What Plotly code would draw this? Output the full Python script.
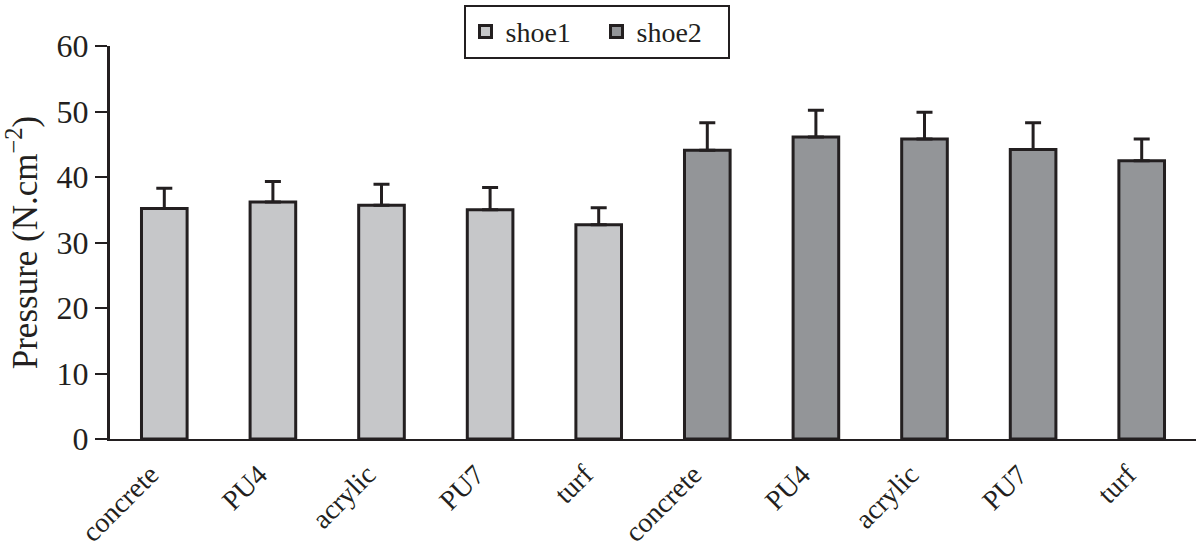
import plotly.graph_objects as go

surfaces = ["concrete", "PU4", "acrylic", "PU7", "turf"]
shoe1_vals = [35.2, 36.2, 35.7, 35.0, 32.7]
shoe1_err = [3.1, 3.1, 3.2, 3.4, 2.6]
shoe2_vals = [44.1, 46.1, 45.8, 44.2, 42.5]
shoe2_err = [4.2, 4.1, 4.1, 4.1, 3.3]
tick_labels = surfaces + surfaces
y_ticks = [0, 10, 20, 30, 40, 50, 60]

FONT = "Liberation Serif, Times New Roman, serif"
INK = "#231f20"

n = len(surfaces)
x1 = list(range(n))
x2 = list(range(n, 2 * n))

fig = go.Figure()
for name, xs, vals, errs, color in [
    ("shoe1", x1, shoe1_vals, shoe1_err, "#c6c7c9"),
    ("shoe2", x2, shoe2_vals, shoe2_err, "#939598"),
]:
    fig.add_trace(go.Bar(
        name=name, x=xs, y=vals, width=0.42,
        marker=dict(color=color, line=dict(color=INK, width=3)),
        error_y=dict(type="data", symmetric=False, array=errs,
                     arrayminus=[0] * len(errs), color=INK,
                     thickness=3, width=8),
    ))

fig.update_layout(
    width=1196, height=552,
    margin=dict(l=110, r=0, t=46, b=113),
    paper_bgcolor="white", plot_bgcolor="white",
    barmode="overlay",
    font=dict(family=FONT, color=INK),
    showlegend=True,
    legend=dict(
        orientation="h", x=0.448, xanchor="center", y=1.105, yanchor="top",
        font=dict(family=FONT, size=28, color=INK),
        bordercolor=INK, borderwidth=2, bgcolor="white",
        itemwidth=30, tracegroupgap=0, entrywidth=86,
    ),
    xaxis=dict(
        range=[-0.5, 2 * n - 0.5], automargin=False,
        tickmode="array", tickvals=x1 + x2, ticktext=tick_labels,
        tickangle=-45, tickfont=dict(family=FONT, size=28, color=INK),
        ticklabelshift=-14, ticklabelstandoff=6,
        showline=True, linecolor=INK, linewidth=2, ticks="",
        showgrid=False, zeroline=False,
    ),
    yaxis=dict(
        range=[0, 60], tickvals=y_ticks, automargin=False,
        tickfont=dict(family=FONT, size=32, color=INK),
        showline=True, linecolor=INK, linewidth=3,
        ticks="outside", ticklen=12, tickwidth=2, tickcolor=INK,
        showgrid=False, zeroline=False,
        title=dict(text="Pressure (N.cm<sup>\u22122</sup>)",
                   font=dict(family=FONT, size=35, color=INK), standoff=9),
    ),
)

fig.write_html("out.html")
